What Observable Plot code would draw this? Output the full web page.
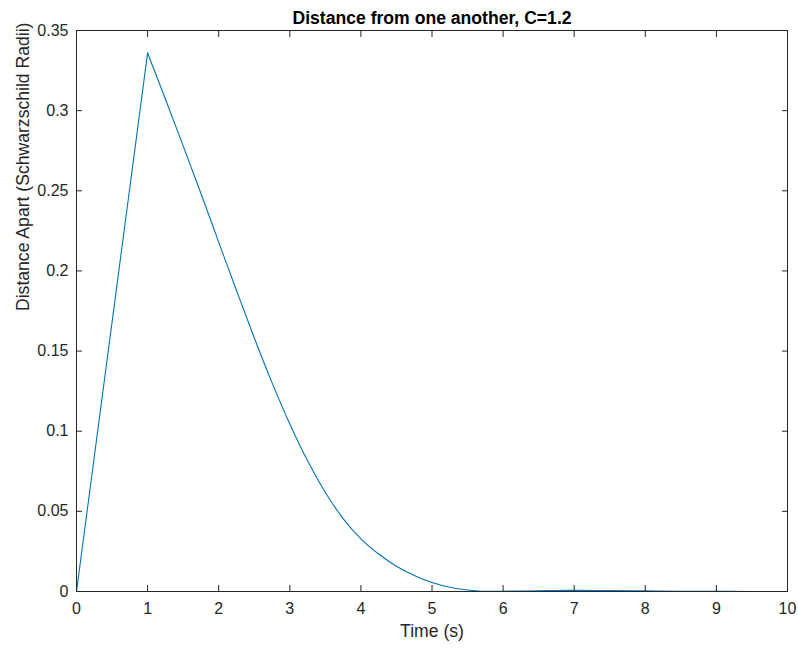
<!DOCTYPE html>
<html>
<head>
<meta charset="utf-8">
<script src="https://cdn.jsdelivr.net/npm/d3@7"></script>
<script src="https://cdn.jsdelivr.net/npm/@observablehq/plot@0.6"></script>
<style>
  html, body { margin: 0; padding: 0; background: #fff; }
  #chart svg { display: block; }
</style>
</head>
<body>
<div id="chart"></div>
<script>
const titleText = "Distance from one another, C=1.2";
const xLabel = "Time (s)";
const yLabel = "Distance Apart (Schwarzschild Radii)";

const times = [0, 1, 1.25, 1.5, 1.75, 2, 2.25, 2.5, 2.75, 3, 3.25, 3.5, 3.75, 4, 4.25, 4.5, 4.75, 5, 5.25, 5.5, 5.75, 6, 6.5, 7, 7.5, 8, 8.5, 9, 9.5, 10];
const distances = [0, 0.336, 0.3073, 0.2780, 0.2483, 0.2180, 0.1878, 0.1583, 0.1303, 0.1045, 0.0815, 0.0618, 0.0455, 0.0329, 0.0234, 0.0158, 0.0100, 0.0056, 0.0026, 0.0009, 0.0001, 0.0002, 0.0005, 0.0007, 0.0006, 0.0004, 0.0002, 0.0001, 0.0, 0.0];

const xTicks = [0, 1, 2, 3, 4, 5, 6, 7, 8, 9, 10];
const yTicks = [0, 0.05, 0.1, 0.15, 0.2, 0.25, 0.3, 0.35];

const data = times.map((t, i) => ({t, d: distances[i]}));
const peakT = times[distances.indexOf(d3.max(distances))];
const rising = data.filter(r => r.t <= peakT);
const falling = data.filter(r => r.t >= peakT);
const fmtY = d => String(+d.toFixed(2));
const ink = "#262626";
const font = "'Liberation Sans', Arial, Helvetica, sans-serif";

const chart = Plot.plot({
  width: 798,
  height: 649,
  marginLeft: 76,
  marginRight: 11,
  marginTop: 30,
  marginBottom: 58,
  style: {fontFamily: font, fontSize: "16px", color: ink, background: "#fff"},
  x: {domain: [0, 10], label: null},
  y: {domain: [0, 0.35], label: null},
  marks: [
    Plot.line(rising, {x: "t", y: "d", stroke: "#0072BD", strokeWidth: 1.1}),
    Plot.line(falling, {x: "t", y: "d", stroke: "#0072BD", strokeWidth: 1.1, curve: "monotone-x"}),
    Plot.frame({stroke: ink, strokeWidth: 1}),
    Plot.axisX(xTicks, {anchor: "bottom", tickSize: -6, tickPadding: 17.6, stroke: ink, fill: ink, fontSize: 16, label: null}),
    Plot.axisX(xTicks, {anchor: "top", tickSize: -6, tickFormat: () => "", stroke: ink, label: null}),
    Plot.axisY(yTicks, {anchor: "left", tickSize: -6, tickPadding: 14, tickFormat: fmtY, stroke: ink, fill: ink, fontSize: 16, label: null}),
    Plot.axisY(yTicks, {anchor: "right", tickSize: -6, tickFormat: () => "", stroke: ink, label: null}),
    Plot.text([titleText], {frameAnchor: "top", dy: -12.3, lineAnchor: "middle", fontWeight: "bold", fontSize: 17.6, fill: "#000"}),
    Plot.text([xLabel], {frameAnchor: "bottom", dy: 40, lineAnchor: "middle", fontSize: 17.6, fill: ink}),
    Plot.text([yLabel], {frameAnchor: "left", dx: -53.3, rotate: -90, lineAnchor: "middle", fontSize: 17.6, fill: ink})
  ]
});
document.getElementById("chart").appendChild(chart);
</script>
</body>
</html>
